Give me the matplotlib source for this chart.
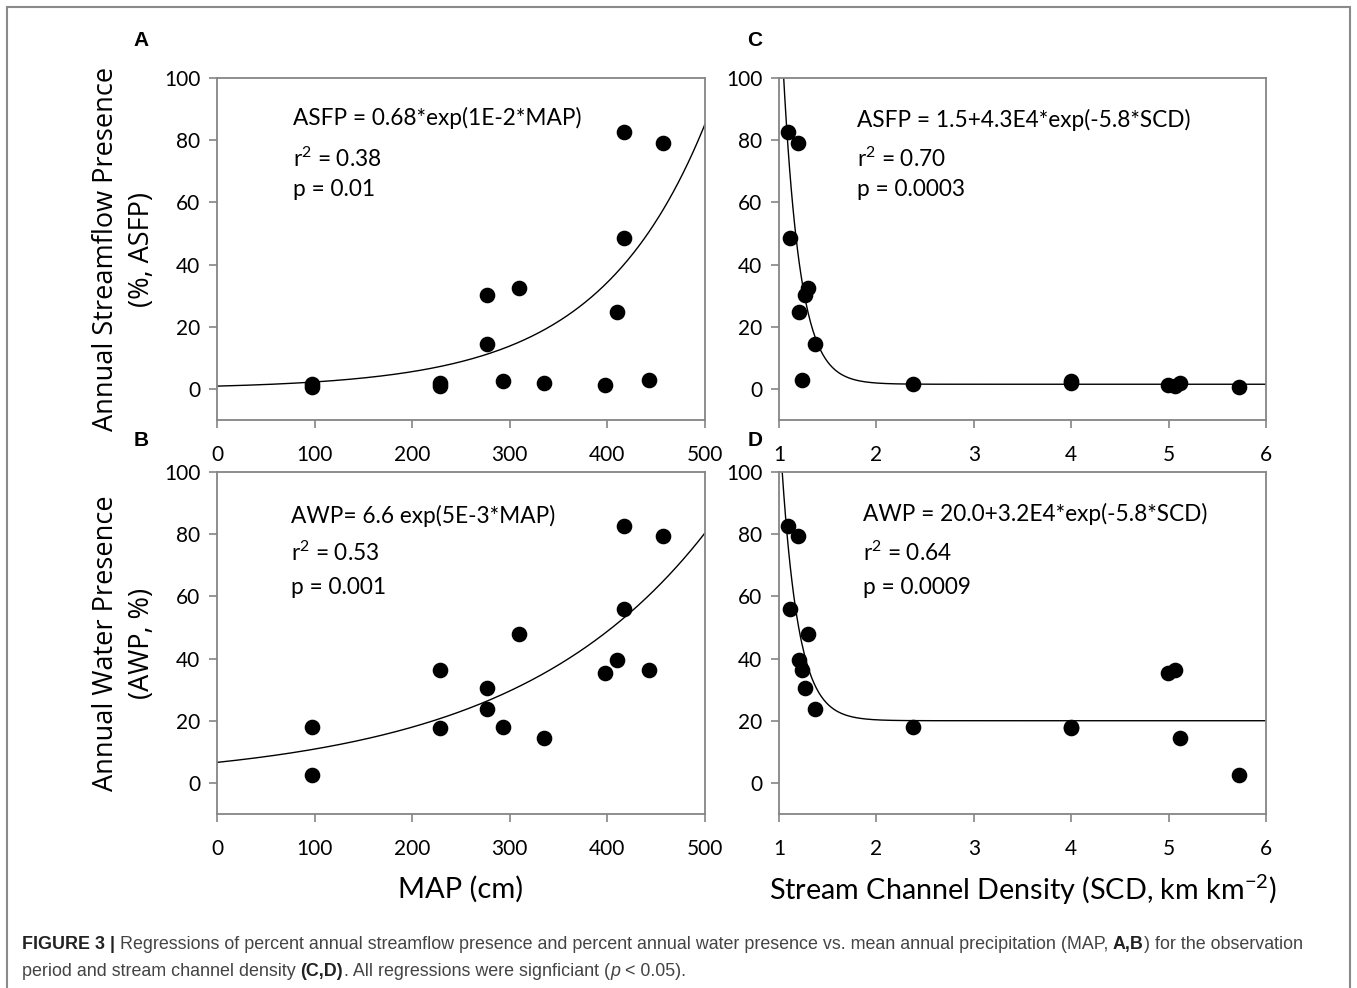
import numpy as np
import matplotlib
matplotlib.use("Agg")
import matplotlib.pyplot as plt
from matplotlib.patches import Rectangle

# one entry per site
map_cm = [417, 457, 417, 309, 277, 410, 277, 443, 228, 398, 335, 97, 97, 228, 293]
scd = [1.09, 1.20, 1.115, 1.295, 1.27, 1.21, 1.365, 1.24, 5.07, 4.99, 5.12, 5.72, 2.38, 4.0, 4.0]
asfp = [82.6, 79.2, 48.6, 32.3, 30.3, 24.7, 14.5, 3.0, 0.8, 1.3, 2.0, 0.5, 1.5, 2.0, 2.4]
awp = [82.6, 79.3, 56.0, 48.0, 30.4, 39.6, 23.9, 36.3, 36.3, 35.2, 14.6, 2.7, 18.0, 17.8, 18.1]

eq_a = ["ASFP = 0.68*exp(1E-2*MAP)", "r$^2$ = 0.38", "p = 0.01"]
eq_b = ["AWP= 6.6 exp(5E-3*MAP)", "r$^2$ = 0.53", "p = 0.001"]
eq_c = ["ASFP = 1.5+4.3E4*exp(-5.8*SCD)", "r$^2$ = 0.70", "p = 0.0003"]
eq_d = ["AWP = 20.0+3.2E4*exp(-5.8*SCD)", "r$^2$ = 0.64", "p = 0.0009"]

W, H = 1357, 988
plt.rcParams['font.family'] = ['Lato', 'DejaVu Sans']
plt.rcParams['mathtext.fontset'] = 'custom'
plt.rcParams['mathtext.rm'] = 'Lato'
plt.rcParams['mathtext.it'] = 'Lato:italic'
plt.rcParams['mathtext.bf'] = 'Lato:bold'

fig = plt.figure(figsize=(W / 100, H / 100), dpi=100)
fig.patch.set_facecolor('white')

grey = '#858585'


def px_box(l, t, r, b):
    return [l / W, 1 - b / H, (r - l) / W, (b - t) / H]


def style_ax(ax, xlim, xticks):
    ax.set_xlim(xlim)
    ax.set_ylim(-10, 100)
    ax.set_xticks(xticks)
    ax.set_yticks(range(0, 101, 20))
    for s in ax.spines.values():
        s.set_color(grey)
        s.set_linewidth(1.3)
    ax.tick_params(axis='both', direction='out', length=6, width=1.2, color=grey,
                   labelsize=15, labelcolor='black')
    ax.tick_params(axis='x', pad=12)
    ax.tick_params(axis='y', pad=6)


def eq_text(ax, x, ys, lines):
    for y, s in zip(ys, lines):
        ax.text(x, y, s, fontsize=16.3, va='center', ha='left')


axA = fig.add_axes(px_box(217, 78, 705, 420))
axB = fig.add_axes(px_box(217, 472, 705, 814))
axC = fig.add_axes(px_box(779, 78, 1266, 420))
axD = fig.add_axes(px_box(779, 472, 1266, 814))

xm = np.linspace(0, 500, 400)
xs = np.linspace(1, 6, 600)

axA.scatter(map_cm, asfp, s=105, color='black', zorder=3)
axA.plot(xm, 0.9 * np.exp(0.0091 * xm), color='black', lw=1)
style_ax(axA, (0, 500), range(0, 501, 100))
eq_text(axA, 78, [87, 74, 64], eq_a)

axB.scatter(map_cm, awp, s=105, color='black', zorder=3)
axB.plot(xm, 6.6 * np.exp(5e-3 * xm), color='black', lw=1)
style_ax(axB, (0, 500), range(0, 501, 100))
eq_text(axB, 76, [86, 74, 63], eq_b)

axC.scatter(scd, asfp, s=105, color='black', zorder=3)
axC.plot(xs, 1.5 + 4.3e4 * np.exp(-5.8 * xs), color='black', lw=1)
style_ax(axC, (1, 6), range(1, 7))
eq_text(axC, 1.8, [86.5, 74, 64], eq_c)

axD.scatter(scd, awp, s=105, color='black', zorder=3)
axD.plot(xs, 20.0 + 3.2e4 * np.exp(-5.8 * xs), color='black', lw=1)
style_ax(axD, (1, 6), range(1, 7))
eq_text(axD, 1.86, [86.5, 74, 63], eq_d)

axB.set_xlabel('MAP (cm)', fontsize=21, labelpad=12)
axD.set_xlabel('Stream Channel Density (SCD, km km$^{-2}$)', fontsize=20.7, labelpad=10)

ylab_font = ['Open Sans', 'DejaVu Sans']
fig.text(124 / W, 1 - 249 / H, 'Annual Streamflow Presence\n(%, ASFP)', rotation=90,
         ha='center', va='center', fontsize=19.5, family=ylab_font, linespacing=1.35)
fig.text(124 / W, 1 - 643 / H, 'Annual Water Presence\n(AWP, %)', rotation=90,
         ha='center', va='center', fontsize=19.5, family=ylab_font, linespacing=1.35)

for lab, x, y in [('A', 141, 40), ('B', 141, 440), ('C', 755, 40), ('D', 755, 440)]:
    fig.text(x / W, 1 - y / H, lab, ha='center', va='center', fontsize=15,
             weight='bold', family=['Liberation Sans', 'DejaVu Sans'])

# frame around the figure panel
fig.add_artist(Rectangle((7 / W, -0.05), (1350 - 7) / W, 1.05 - 7 / H, transform=fig.transFigure,
                         fill=False, edgecolor='#8a8a8a', lw=1.5, clip_on=False))

# caption, built piece by piece
cap_font = ['Liberation Sans', 'DejaVu Sans']
renderer = fig.canvas.get_renderer()


def caption_line(pieces, x0, base_y):
    x = x0
    for txt, weight, style, gap in pieces:
        x += gap
        t = fig.text(x / W, 1 - base_y / H, txt, fontsize=12.9, weight=weight, style=style,
                     color='#222222' if weight == 'bold' else '#444444',
                     family=cap_font, va='baseline', ha='left')
        x = t.get_window_extent(renderer=renderer).x1


sp = 4.8
caption_line([
    ('FIGURE 3 |', 'bold', 'normal', 0),
    ('Regressions of percent annual streamflow presence and percent annual water presence vs. '
     'mean annual precipitation (MAP,', 'normal', 'normal', sp),
    ('A,B', 'bold', 'normal', sp),
    (') for the observation', 'normal', 'normal', 0.5),
], 22, 949)
caption_line([
    ('period and stream channel density', 'normal', 'normal', 0),
    ('(C,D)', 'bold', 'normal', sp),
    ('. All regressions were signficiant (', 'normal', 'normal', 0.5),
    ('p', 'normal', 'italic', 1),
    ('< 0.05).', 'normal', 'normal', sp),
], 22, 976)

fig.savefig('out.png', dpi=100, facecolor='white')
